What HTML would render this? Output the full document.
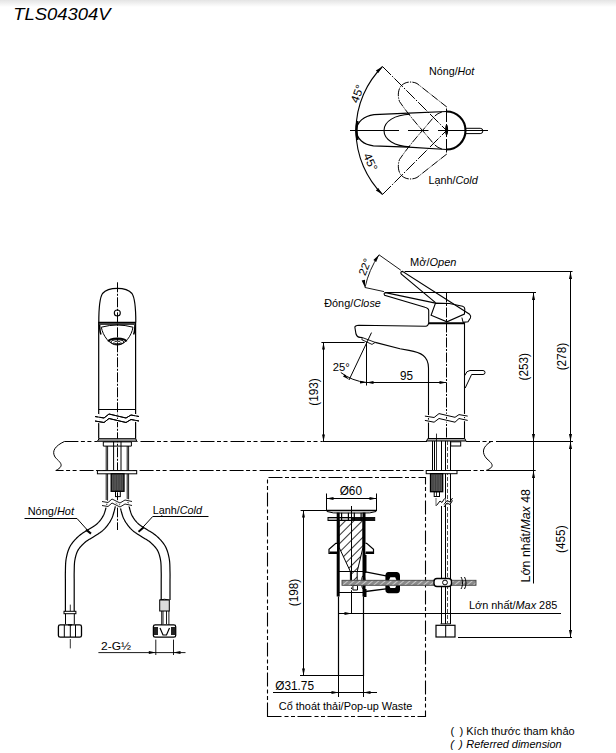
<!DOCTYPE html>
<html><head><meta charset="utf-8">
<style>
html,body{margin:0;padding:0;background:#fff;}
body{width:616px;height:753px;overflow:hidden;position:relative;}
svg{position:absolute;left:0;top:0;}
text{font-family:"Liberation Sans",sans-serif;fill:#000;stroke:#000;stroke-width:0px;}
</style></head><body>
<svg width="616" height="753" viewBox="0 0 616 753">
<defs>
<linearGradient id="topg" x1="0" y1="0" x2="0" y2="1">
<stop offset="0" stop-color="#e4e4e4"/><stop offset="1" stop-color="#ffffff"/>
</linearGradient>
</defs>
<rect x="0" y="0" width="616" height="7" fill="url(#topg)"/>

<text x="13.2" y="19.8" font-size="16.2" font-style="italic" textLength="97.4" lengthAdjust="spacingAndGlyphs" style="stroke-width:0">TLS04304V</text>
<g fill="none" stroke="#000" stroke-width="1">
<path d="M350 130.5H399M408 130.5H428.5M438 130.5H488" stroke-width="1"/>
<path d="M446.5 108.5V122M446.5 124V137M446.5 139V152.5" stroke-width="1"/>
<path d="M382.51 66.51A90.5 90.5 0 0 0 382.51 194.49" stroke-width="1.1"/>
<path d="M382.51 66.51L446.5 130.5M382.51 194.49L446.5 130.5" stroke-dasharray="12,1.6,1.6,1.6" stroke-width="1"/>
<path d="M382.51 66.51L378.30 72.96L375.88 70.43Z" fill="#000" stroke="none"/>
<path d="M382.51 194.49L375.88 190.57L378.30 188.04Z" fill="#000" stroke="none"/>
<path d="M446.8 107L417 83.5C413 81.5 406 81 401.5 85.5C398 89 397.5 96 399.5 101.5C406 111 414 121 422.5 130.5L433.7 143.8Q437 147.8 443 149.3" stroke-dasharray="8,1.2,1.2,1.2" stroke-width="1"/>
<path d="M446.8 154L417 177.5C413 179.5 406 180 401.5 175.5C398 172 397.5 165 399.5 159.5C406 150 414 140 422.5 130.5L433.7 117.2Q437 113.2 443 111.7" stroke-dasharray="8,1.2,1.2,1.2" stroke-width="1"/>
<path d="M446.5 111.5L408.4 113.1L374 114.6C364 116 356.5 122 356.5 130.5C356.5 139 364 145 373.4 145.8L408.4 147.2L446.5 149.5" stroke-width="1.25"/>
<path d="M446.5 111.5A19 19 0 0 1 446.5 149.5" stroke-width="2.1"/>
<path d="M410 114.3C395 115 384 121 384 130.5C384 140 395 146 410 146.8" stroke-width="1.1"/>
<path d="M465.3 128.3H480.2A2.65 2.65 0 0 1 480.2 133.6H465.3" stroke-width="1"/>
<ellipse cx="446.6" cy="130" rx="1.5" ry="5.2" fill="#000" stroke="none"/>
<path d="M357.5 121Q355.3 130.5 357.5 140" stroke-width="2.4"/>
</g>
<text x="429" y="74.5" font-size="11" textLength="45.3" lengthAdjust="spacingAndGlyphs" class="t">Nóng/<tspan font-style="italic">Hot</tspan></text>
<text x="428.4" y="183.6" font-size="11" textLength="49.4" lengthAdjust="spacingAndGlyphs" class="t">Lạnh/<tspan font-style="italic">Cold</tspan></text>
<text x="357.1" y="97.74" font-size="11.5" text-anchor="middle" textLength="18.5" lengthAdjust="spacingAndGlyphs" transform="rotate(-70 357.1 93.6)">45°</text>
<text x="370.6" y="166.04" font-size="11.5" text-anchor="middle" textLength="18.5" lengthAdjust="spacingAndGlyphs" transform="rotate(65 370.6 161.9)">45°</text>
<g fill="none" stroke="#000" stroke-width="1">
<path d="M446.5 292.5V441" stroke-dasharray="10,1.5,2,1.5" stroke-width="1"/>
<path d="M404.6 271.5H572.5" stroke-width="1"/>
<path d="M385 292.5H536" stroke-width="1"/>
<path d="M379 254.8L400.8 270.2M365 287.5L384 291.6" stroke-width="0.9"/>
<path d="M379 254.8A93.6 93.6 0 0 0 365 287.5" stroke-width="0.9"/>
<path d="M379.00 254.80L376.21 261.97L373.40 260.07Z" fill="#000" stroke="none"/>
<path d="M365.00 287.50L361.68 280.56L365.00 279.81Z" fill="#000" stroke="none"/>
<path d="M435.5 302.7L401.4 274.2Q399.8 272 402.4 271.4L469.6 314.3Q471.4 316 470.4 318L468 321.8L463 322.4" stroke-width="1.1"/>
<path d="M461.9 317.6L463.1 322.4" stroke-width="1"/>
<path d="M435.5 303.1L385.5 292.6Q383.3 293.2 384.6 295.2L425 307.2Q428.7 308.2 428.7 310.5V322.2" stroke-width="1.1"/>
<path d="M435.5 303.1L449.4 303.5L462.6 306.3Q464.8 307 464.8 309L464.4 314.1L446.9 321.8L431.1 315.3Z" stroke-width="1.1"/>
<path d="M428.5 323.2H464.6" stroke-width="2"/>
<path d="M428.7 322.2Q428.5 326 425.5 326.3L358.9 325.3Q354.6 325.8 354.9 327.5L356 334Q357 337.2 360 337.4L362.2 337.5" stroke-width="1.1"/>
<path d="M362.2 337.5L361.9 339.7L372 344.4L375.2 342.4Z" stroke-width="0.9"/>
<path d="M375.2 342.4L400 348.8L409 350.4C421 352.5 428.5 356 428.5 368V438.5" stroke-width="1.1"/>
<path d="M464.5 323V438.5" stroke-width="1.1"/>
<path d="M464.8 375.5Q466.5 370.5 470 370.5H483A2 2 0 0 1 483 374.5H471.6L465.2 388" stroke-width="1"/>
<path d="M424.9 416.1L434.1 417.5L439 413.6L455 417.3L459 414.6L467.7 416.1M424.9 420.4L434.1 422.2L439 418.5L455 422.2L459 418.5L467.7 420.4" stroke="#fff" stroke-width="3"/>
<path d="M424.9 416.1L434.1 417.5L439 413.6L455 417.3L459 414.6L467.7 416.1M424.9 420.4L434.1 422.2L439 418.5L455 422.2L459 418.5L467.7 420.4" stroke-width="1"/>
<path d="M427.8 438.5H464.8L466 441H426.5Z" fill="#aaa" stroke-width="1"/>
<path d="M432.5 441V473.7M441.5 441V473.7M434.5 441V473.7" stroke-width="1"/>
<path d="M436.5 433.6V496" stroke-width="0.8"/>
<path d="M445.5 441V623.8M450.5 441V623.8" stroke-width="1"/>
<path d="M447.5 441V623" stroke-dasharray="4,2" stroke-width="0.7"/>
<path d="M441.5 506V623.8" stroke-width="1"/>
<rect x="450.7" y="441.8" width="10" height="4.2" stroke-width="1"/>
<rect x="426.2" y="470.5" width="30.8" height="3.2" fill="#fff" stroke-width="1"/>
<rect x="430.5" y="473.7" width="12.2" height="18" fill="#555" stroke-width="1.3"/>
<path d="M433 474V491M435.5 474V491M438 474V491M440.5 474V491" stroke="#333" stroke-width="0.6"/>
<rect x="434.2" y="491.7" width="5.3" height="4.8" stroke-width="1"/>
<path d="M436.5 500H445.5M441 503H450.5" stroke="#fff" stroke-width="3"/>
<path d="M436.5 505.5L440 501L442 502.5L444.5 498.5M444 504.5L447 500.5L450 502L452.5 498M444 507L447 503L450 504.5L452.5 500.5" stroke-width="1"/>
<path d="M436 498V506" stroke-width="0.6"/>
<rect x="436" y="625.3" width="19" height="11.7" stroke-width="1.2"/>
<path d="M445.7 625.3V637" stroke-width="1"/>
<path d="M440.5 623.8H450.7" stroke-width="0.9"/>
</g>
<text x="410" y="265.5" font-size="11" textLength="46.5" lengthAdjust="spacingAndGlyphs">Mở/<tspan font-style="italic">Open</tspan></text>
<text x="324.3" y="307.3" font-size="11" textLength="56.5" lengthAdjust="spacingAndGlyphs">Đóng/<tspan font-style="italic">Close</tspan></text>
<text x="364.7" y="270.76" font-size="11" text-anchor="middle" textLength="17" lengthAdjust="spacingAndGlyphs" transform="rotate(-68 364.7 266.8)">22°</text>
<text x="332.7" y="371" font-size="11" textLength="17" lengthAdjust="spacingAndGlyphs">25°</text>
<text x="400" y="380" font-size="12" textLength="13" lengthAdjust="spacingAndGlyphs">95</text>
<g fill="none" stroke="#000" stroke-width="1">
<path d="M64.4 441.5H97.5" stroke-dasharray="14,2.5,4,2.5,4,3"/>
<path d="M136.5 441.5H322.4" stroke-dasharray="14,2.5,4,2.5,4,3" stroke-dashoffset="-4"/>
<path d="M322.4 441.5H427"/>
<path d="M466 441.5H500" stroke-dasharray="14,2.5,4,2.5,4,3"/>
<path d="M500 441.5H573"/>
<path d="M55.6 470.5H426.2" stroke-dasharray="14,2.5,4,2.5,4,3" stroke-dashoffset="6"/>
<path d="M457 470.5H500" stroke-dasharray="14,2.5,4,2.5,4,3"/>
<path d="M500 470.5H535.7"/>
<path d="M64.4 441.5C55 446 51.5 451 55 457C59 462 66 465 56 470.5" stroke-width="1"/>
<path d="M491 441.5C482 447 481.5 453 487 459C493 464 495 467 486 470.5" stroke-width="1"/>
<path d="M321.4 342.5H364.6M323.5 342.5V441.5" stroke-width="1"/>
<path d="M323.50 342.50L324.95 349.50L322.05 349.50Z" fill="#000" stroke="none"/>
<path d="M323.50 441.50L322.05 434.50L324.95 434.50Z" fill="#000" stroke="none"/>
<path d="M366.5 342V385.5M371.5 332.6L349 380" stroke-width="1"/>
<path d="M340.8 372.5Q352 381 366.5 382.5" stroke-width="1"/>
<path d="M349.00 379.50L343.02 376.57L344.83 374.31Z" fill="#000" stroke="none"/>
<path d="M366.50 382.50L359.94 383.62L360.08 380.73Z" fill="#000" stroke="none"/>
<path d="M366.5 382.5H446.5" stroke-width="1"/>
<path d="M446.50 382.50L439.50 383.95L439.50 381.05Z" fill="#000" stroke="none"/>
<path d="M366.50 382.50L373.50 381.05L373.50 383.95Z" fill="#000" stroke="none"/>
<path d="M533.5 292.5V583.5" stroke-width="1"/>
<path d="M533.50 292.50L535.00 300.00L532.00 300.00Z" fill="#000" stroke="none"/>
<path d="M533.50 441.50L532.00 434.00L535.00 434.00Z" fill="#000" stroke="none"/>
<path d="M533.50 470.50L535.00 478.00L532.00 478.00Z" fill="#000" stroke="none"/>
<path d="M570.5 271.5V637.5" stroke-width="1"/>
<path d="M570.50 271.50L572.00 279.00L569.00 279.00Z" fill="#000" stroke="none"/>
<path d="M570.50 441.50L569.00 434.00L572.00 434.00Z" fill="#000" stroke="none"/>
<path d="M570.50 441.50L572.00 449.00L569.00 449.00Z" fill="#000" stroke="none"/>
<path d="M570.50 637.50L569.00 630.00L572.00 630.00Z" fill="#000" stroke="none"/>
<path d="M458 637.5H572" stroke-width="1"/>
<path d="M338 613.5H561" stroke-width="1"/>
<path d="M351.50 613.50L344.50 614.95L344.50 612.05Z" fill="#000" stroke="none"/>
</g>
<text x="314" y="396.32" font-size="12" text-anchor="middle" textLength="27.5" lengthAdjust="spacingAndGlyphs" transform="rotate(-90 314 392)">(193)</text>
<text x="523.2" y="371.02" font-size="12" text-anchor="middle" textLength="27.5" lengthAdjust="spacingAndGlyphs" transform="rotate(-90 523.2 366.7)">(253)</text>
<text x="561.2" y="360.92" font-size="12" text-anchor="middle" textLength="27.5" lengthAdjust="spacingAndGlyphs" transform="rotate(-90 561.2 356.6)">(278)</text>
<text x="560.5" y="543.52" font-size="12" text-anchor="middle" textLength="27.5" lengthAdjust="spacingAndGlyphs" transform="rotate(-90 560.5 539.2)">(455)</text>
<text x="525.2" y="540.16" font-size="12.4" text-anchor="middle" textLength="93.4" lengthAdjust="spacingAndGlyphs" transform="rotate(-90 525.2 535.7)">Lớn nhất/<tspan font-style="italic">Max</tspan> 48</text>
<text x="469" y="609.3" font-size="11" textLength="88.3" lengthAdjust="spacingAndGlyphs">Lớn nhất/<tspan font-style="italic">Max</tspan> 285</text>
<g fill="none" stroke="#000" stroke-width="1">
<path d="M117.5 282.3V530" stroke-dasharray="10,1.5,2,1.5" stroke-width="1"/>
<path d="M98.8 322.3C98.8 307 99.5 298 102.5 293.5C106 289.5 111 288.4 117.3 288.4C123.5 288.4 128.5 289.5 132 293.5C135 298 135.8 307 135.8 322.3" stroke-width="1.2"/>
<path d="M98.5 322.5H135.8M98.5 324.2H135.8" stroke-width="1.3"/>
<circle cx="117.3" cy="313" r="3" stroke-width="1.1"/>
<path d="M98.7 322V438.7M135.6 322V438.7" stroke-width="1.2"/>
<path d="M101.3 327.2Q117.3 322.8 133 327.2C131.5 336 125 345 117.3 345C109.5 345 103 336 101.3 327.2Z" stroke-width="1"/>
<path d="M99.6 325Q99.8 332 101 334.5M135 325Q134.8 332 133.6 334.5" stroke-width="1.6"/>
<path d="M108.3 341.5C110 337.5 124.6 337.5 126.5 341.5" stroke-width="2.2"/>
<ellipse cx="117.4" cy="342" rx="6.5" ry="2.3" stroke-width="1"/>
<ellipse cx="117.4" cy="342.6" rx="3.5" ry="1.3" stroke-width="0.8"/>
<path d="M98.7 409.5H135.6" stroke-width="1"/>
<path d="M95 416.5L104 418L109 414L126 418L131 415L139 416.5M95 421L104 422.5L109 418.5L126 422.5L131 419.5L139 421" stroke="#fff" stroke-width="3"/>
<path d="M95 416.5L104 418L109 414L126 418L131 415L139 416.5M95 421L104 422.5L109 418.5L126 422.5L131 419.5L139 421" stroke-width="1"/>
<path d="M98.7 414V421M135.6 414V421" stroke="#fff" stroke-width="2"/>
<path d="M95 416.5L104 418L109 414L126 418L131 415L139 416.5M95 421L104 422.5L109 418.5L126 422.5L131 419.5L139 421" stroke-width="1"/>
<path d="M99 438.7H135.8L136.7 441.3H97.4Z" fill="#aaa" stroke-width="1"/>
<path d="M103.3 441.9H131.4V446.1H103.3Z" stroke-width="1"/>
<path d="M106.2 446V500M107.6 446V500M127.2 446V500M128.6 446V500" stroke-width="0.9"/>
<path d="M113.6 441.5V473.8M121 441.5V473.8" stroke-width="1"/>
<rect x="97.4" y="470.6" width="39.3" height="3.2" fill="#fff" stroke-width="1"/>
<rect x="111.2" y="473.8" width="12.8" height="17.5" fill="#555" stroke-width="1.3"/>
<path d="M113.8 474V491M116.4 474V491M119 474V491M121.6 474V491" stroke="#333" stroke-width="0.6"/>
<rect x="115.5" y="491.3" width="4.8" height="5.3" stroke-width="1"/>
<path d="M107.67 500.24L107.62 500.49L107.58 500.78L107.55 501.01L107.53 501.21L107.51 501.38L107.48 501.57L107.45 501.79L107.40 502.05L107.33 502.38L107.24 502.78L107.12 503.25L106.95 503.86L106.75 504.63L106.52 505.51L106.29 506.46L106.04 507.45L105.78 508.49L105.50 509.55L105.20 510.60L104.89 511.64L104.57 512.64L104.23 513.57L103.90 514.41L103.55 515.17L103.16 515.91L102.73 516.67L102.28 517.43L101.81 518.17L101.31 518.90L100.79 519.62L100.25 520.32L99.69 521.00L99.12 521.67L98.54 522.31L97.94 522.94L97.36 523.52L96.79 524.04L96.21 524.53L95.57 525.01L94.90 525.49L94.18 525.97L93.43 526.45L92.65 526.93L91.84 527.42L91.01 527.92L90.16 528.44L89.30 528.99L88.48 529.52L87.75 530.01L87.04 530.46L86.31 530.90L85.56 531.35L84.78 531.81L83.99 532.29L83.18 532.80L82.36 533.33L81.52 533.91L80.67 534.52L79.82 535.19L78.99 535.90L78.22 536.59L77.46 537.30L76.69 538.04L75.92 538.80L75.15 539.60L74.39 540.43L73.64 541.28L72.91 542.17L72.20 543.09L71.52 544.04L70.87 545.03L70.27 546.04L69.72 547.07L69.22 548.12L68.76 549.17L68.35 550.23L67.98 551.30L67.64 552.36L67.34 553.43L67.06 554.50L66.81 555.56L66.58 556.62L66.37 557.67L66.16 558.75L65.98 559.90L65.83 561.09L65.72 562.28L65.63 563.47L65.57 564.65L65.53 565.81L65.50 566.95L65.47 568.04L65.46 569.10L65.44 570.09L65.43 571.01L65.40 571.88L65.38 572.74L65.36 573.62L65.35 574.47L65.35 575.30L65.35 576.08L65.36 576.83L65.36 577.52L65.37 578.16L65.38 578.74L65.39 579.25L65.40 579.67L65.40 580.03V611.3M116.33 501.76L116.32 501.85L116.31 501.90L116.29 502.04L116.27 502.27L116.23 502.56L116.18 502.92L116.11 503.33L116.02 503.79L115.92 504.29L115.79 504.86L115.63 505.49L115.45 506.14L115.26 506.84L115.06 507.64L114.83 508.57L114.57 509.60L114.30 510.70L113.99 511.85L113.66 513.05L113.29 514.26L112.90 515.48L112.46 516.70L111.98 517.89L111.45 519.03L110.91 520.08L110.35 521.09L109.76 522.07L109.14 523.03L108.50 523.97L107.84 524.88L107.15 525.77L106.45 526.64L105.73 527.48L104.99 528.30L104.23 529.09L103.44 529.88L102.59 530.66L101.69 531.41L100.79 532.10L99.89 532.74L98.99 533.34L98.11 533.90L97.24 534.44L96.40 534.95L95.58 535.44L94.80 535.92L94.06 536.39L93.32 536.88L92.51 537.41L91.68 537.93L90.87 538.43L90.08 538.90L89.32 539.35L88.59 539.79L87.90 540.23L87.23 540.66L86.59 541.10L85.98 541.54L85.40 542.00L84.81 542.50L84.17 543.08L83.50 543.70L82.84 544.33L82.19 544.98L81.55 545.64L80.94 546.31L80.34 546.99L79.78 547.67L79.26 548.35L78.77 549.02L78.33 549.69L77.93 550.36L77.57 551.04L77.23 551.76L76.91 552.50L76.61 553.27L76.33 554.07L76.07 554.90L75.83 555.75L75.60 556.62L75.39 557.51L75.19 558.42L75.00 559.35L74.84 560.25L74.69 561.13L74.58 562.04L74.49 563.01L74.42 564.02L74.36 565.05L74.32 566.10L74.29 567.15L74.27 568.20L74.26 569.23L74.24 570.24L74.22 571.21L74.20 572.12L74.17 572.96L74.16 573.75L74.15 574.53L74.15 575.30L74.15 576.03L74.16 576.74L74.16 577.40L74.17 578.02L74.18 578.60L74.19 579.12L74.20 579.58L74.20 579.97V611.3" stroke-width="1.2"/>
<path d="M119.07 501.76L119.08 501.85L119.09 501.90L119.11 502.04L119.13 502.27L119.17 502.56L119.22 502.92L119.29 503.33L119.38 503.79L119.48 504.29L119.61 504.86L119.77 505.49L119.95 506.14L120.14 506.84L120.34 507.64L120.57 508.57L120.83 509.60L121.10 510.70L121.41 511.85L121.74 513.05L122.11 514.26L122.50 515.48L122.94 516.70L123.42 517.89L123.95 519.03L124.49 520.08L125.05 521.09L125.64 522.07L126.26 523.03L126.90 523.97L127.56 524.88L128.25 525.77L128.95 526.64L129.67 527.48L130.41 528.30L131.17 529.09L131.96 529.88L132.81 530.66L133.71 531.41L134.61 532.10L135.51 532.74L136.41 533.34L137.29 533.90L138.16 534.44L139.00 534.95L139.82 535.44L140.60 535.92L141.34 536.39L142.08 536.88L142.89 537.41L143.72 537.93L144.53 538.43L145.32 538.90L146.08 539.35L146.81 539.79L147.50 540.23L148.17 540.66L148.81 541.10L149.42 541.54L150.00 542.00L150.59 542.50L151.23 543.08L151.90 543.70L152.56 544.33L153.21 544.98L153.85 545.64L154.46 546.31L155.06 546.99L155.62 547.67L156.14 548.35L156.63 549.02L157.07 549.69L157.47 550.36L157.83 551.04L158.17 551.76L158.49 552.50L158.79 553.27L159.07 554.07L159.33 554.90L159.57 555.75L159.80 556.62L160.01 557.51L160.21 558.42L160.40 559.35L160.56 560.25L160.71 561.13L160.82 562.04L160.91 563.01L160.98 564.02L161.04 565.05L161.08 566.10L161.11 567.15L161.13 568.20L161.14 569.23L161.16 570.24L161.18 571.21L161.20 572.12L161.23 572.96L161.24 573.75L161.25 574.53L161.25 575.30L161.25 576.03L161.24 576.74L161.24 577.40L161.23 578.02L161.22 578.60L161.21 579.12L161.20 579.58L161.20 579.97V600M127.73 500.24L127.78 500.49L127.82 500.78L127.85 501.01L127.87 501.21L127.89 501.38L127.92 501.57L127.95 501.79L128.00 502.05L128.07 502.38L128.16 502.78L128.28 503.25L128.45 503.86L128.65 504.63L128.88 505.51L129.11 506.46L129.36 507.45L129.62 508.49L129.90 509.55L130.20 510.60L130.51 511.64L130.83 512.64L131.17 513.57L131.50 514.41L131.85 515.17L132.24 515.91L132.67 516.67L133.12 517.43L133.59 518.17L134.09 518.90L134.61 519.62L135.15 520.32L135.71 521.00L136.28 521.67L136.86 522.31L137.46 522.94L138.04 523.52L138.61 524.04L139.19 524.53L139.83 525.01L140.50 525.49L141.22 525.97L141.97 526.45L142.75 526.93L143.56 527.42L144.39 527.92L145.24 528.44L146.10 528.99L146.92 529.52L147.65 530.01L148.36 530.46L149.09 530.90L149.84 531.35L150.62 531.81L151.41 532.29L152.22 532.80L153.04 533.33L153.88 533.91L154.73 534.52L155.58 535.19L156.41 535.90L157.18 536.59L157.94 537.30L158.71 538.04L159.48 538.80L160.25 539.60L161.01 540.43L161.76 541.28L162.49 542.17L163.20 543.09L163.88 544.04L164.53 545.03L165.13 546.04L165.68 547.07L166.18 548.12L166.64 549.17L167.05 550.23L167.42 551.30L167.76 552.36L168.06 553.43L168.34 554.50L168.59 555.56L168.82 556.62L169.03 557.67L169.24 558.75L169.42 559.90L169.57 561.09L169.68 562.28L169.77 563.47L169.83 564.65L169.87 565.81L169.90 566.95L169.93 568.04L169.94 569.10L169.96 570.09L169.97 571.01L170.00 571.88L170.02 572.74L170.04 573.62L170.05 574.47L170.05 575.30L170.05 576.08L170.04 576.83L170.04 577.52L170.03 578.16L170.02 578.74L170.01 579.25L170.00 579.67L170.00 580.03V600" stroke-width="1.2"/>
<path d="M102 501.5L108 502.5L112 499L120 503L125 500L132 501.5M102 505.5L108 506.5L112 503L120 507L125 504L132 505.5" stroke="#fff" stroke-width="3"/>
<path d="M102 501.5L108 502.5L112 499L120 503L125 500L132 501.5M102 505.5L108 506.5L112 503L120 507L125 504L132 505.5" stroke-width="0.9"/>
<rect x="64" y="611.3" width="11.9" height="2.4" stroke-width="1"/>
<path d="M65.5 613.7V624.1M74.3 613.7V624.1" stroke-width="1"/>
<path d="M68 624.9H72" stroke-width="1.2"/>
<rect x="58.4" y="624.9" width="23.1" height="12.3" rx="1.8" stroke-width="1.3"/>
<path d="M64.3 625V637M70.3 625V637M75.5 625V637" stroke-width="1"/>
<path d="M70.3 604.6V611M70.3 639V648.4" stroke-width="0.8"/>
<path d="M159.7 600Q164.5 598.5 169.3 600" stroke-width="1"/>
<rect x="159.7" y="600" width="9.6" height="11" fill="#ddd" stroke-width="1"/>
<path d="M161.7 611V624.9M168.9 611V624.9M163 611V624M166.5 611V624" stroke-width="0.9"/>
<rect x="153.4" y="624.9" width="22.3" height="12.3" rx="1.8" stroke-width="1.3"/>
<path d="M154 627H158V635H154ZM171 627H175V635H171Z" fill="#222" stroke="none"/>
<path d="M160 628L163 635H166.5L169.5 628" stroke-width="1.2"/>
<path d="M24.5 518.5H77L90 533" stroke-width="1"/>
<path d="M86 529.6L91 533.6" stroke-width="2"/>
<path d="M208.5 516.5H152.7L140.4 530" stroke-width="1"/>
<path d="M138.5 531.8L143.5 527.6" stroke-width="2"/>
<path d="M98.4 652.6H185.5M155.8 639.6V655M173.5 639.6V655" stroke-width="0.9"/>
<path d="M155.80 652.60L148.80 654.10L148.80 651.10Z" fill="#000" stroke="none"/>
<path d="M173.50 652.60L180.50 651.10L180.50 654.10Z" fill="#000" stroke="none"/>
</g>
<text x="27.7" y="514.7" font-size="11" textLength="46.3" lengthAdjust="spacingAndGlyphs">Nóng/<tspan font-style="italic">Hot</tspan></text>
<text x="152.7" y="514.2" font-size="11" textLength="49.3" lengthAdjust="spacingAndGlyphs">Lạnh/<tspan font-style="italic">Cold</tspan></text>
<text x="101" y="650" font-size="11" textLength="30" lengthAdjust="spacingAndGlyphs">2-G½</text>
<defs><pattern id="hatch" patternUnits="userSpaceOnUse" width="6" height="6" patternTransform="rotate(45)"><rect width="6" height="6" fill="#fff"/><path d="M0 0V6" stroke="#000" stroke-width="1.6"/></pattern>
<pattern id="hatch2" patternUnits="userSpaceOnUse" width="4" height="4" patternTransform="rotate(50)"><rect width="4" height="4" fill="#8a8a8a"/><path d="M0 0V4" stroke="#eee" stroke-width="1.3"/></pattern></defs>
<g fill="none" stroke="#000" stroke-width="1">
<path d="M267.5 716.5V477.5H425.5V716.5Z" stroke-dasharray="14,2.5,4,2.5,4,3" stroke-width="1.1"/>
<path d="M326.5 493.5V510.5M376.5 493.5V510.5M326.5 498.5H376.5" stroke-width="1"/>
<path d="M326.50 498.50L333.50 497.05L333.50 499.95Z" fill="#000" stroke="none"/>
<path d="M376.50 498.50L369.50 499.95L369.50 497.05Z" fill="#000" stroke="none"/>
<path d="M300.6 510.5H326.5M303.5 510.5V675.5M300 675.5H338.5" stroke-width="1"/>
<path d="M303.50 510.50L304.95 517.50L302.05 517.50Z" fill="#000" stroke="none"/>
<path d="M303.50 675.50L302.05 668.50L304.95 668.50Z" fill="#000" stroke="none"/>
<path d="M326 510.5H377" stroke-width="1.6"/>
<path d="M327 511.5Q333 513.5 340 513H363Q370 513.5 376 511.5" stroke-width="1"/>
<path d="M339 520.5H363V547.2L357.2 571.6V584H350.4V571.6L339 547.2Z" fill="url(#hatch)" stroke-width="1"/>
<rect x="328" y="517.5" width="46.7" height="3" fill="#aaa" stroke-width="1"/><rect x="352" y="517" width="22.7" height="4" fill="#111" stroke="none"/>
<path d="M341.6 512.8V521M348.4 512.8V521M354.3 512.8V521M361.1 512.8V521" stroke-width="1.2"/>
<path d="M338.2 512.5V596.5M364 512.5V596.5" stroke-width="3"/>
<path d="M338.5 596.5V675.5H363.5V596.5" stroke-width="1.2"/>
<path d="M351.5 506V580" stroke-width="1"/><path d="M351.5 580V612" stroke-dasharray="6,1.5,1.5,1.5" stroke-width="0.9"/>
<path d="M337 543.3H335.8L329 549.2V553.5H337M365.5 543.3H366.7L373.5 549.2V553.5H365.5" stroke-width="1.2" fill="#fff"/>
<path d="M329.5 552.5H337M365.5 552.5H373" stroke-width="2.2"/>
<path d="M338 571.5H364.5M338 592.5H364.5" stroke-width="1.2"/>
<path d="M365.5 571.8L386 575.8M365.5 591.5L386 588.8" stroke-width="1.3"/>
<path d="M365 555V573M365 589V597" stroke-width="3"/>
<path d="M388.5 572H397Q400 572.5 400 576V589.5Q400 593.3 397 593.3H388.5Q385.4 593.3 385.4 589.5V576Q385.4 572 388.5 572Z" fill="#000" stroke="none"/>
<path d="M388 582.6L390.3 577.2H395.2L397.5 582.6L395.2 588H390.3Z" fill="#fff" stroke="none"/>
<ellipse cx="363.3" cy="582.3" rx="1.8" ry="6.8" stroke-width="0.9"/>
<path d="M352.9 585.5H357.5V590H352.9Z" stroke-width="1"/>
<path d="M351.5 590.5V613" stroke-width="1"/>
<rect x="342" y="580.3" width="134" height="5" fill="url(#hatch2)" stroke="#444" stroke-width="0.9"/>
<path d="M461 577C463 580 463 586 461 589M464.5 577C466.5 580 466.5 586 464.5 589" stroke-width="1"/>
<rect x="434" y="578.5" width="17.5" height="8" rx="3" fill="#fff" stroke-width="1.4"/>
<circle cx="445" cy="582.5" r="2.4" stroke-width="1"/>
<path d="M445.5 506V578.5M445.5 586.5V623.8M450.5 506V578.5M450.5 586.5V623.8" stroke-width="1"/>
</g>
<text x="339.7" y="494.6" font-size="12" textLength="22.3" lengthAdjust="spacingAndGlyphs">Ø60</text>
<text x="293.5" y="596.82" font-size="12" text-anchor="middle" textLength="27.5" lengthAdjust="spacingAndGlyphs" transform="rotate(-90 293.5 592.5)">(198)</text>
<text x="275.2" y="689.5" font-size="12" textLength="38.8" lengthAdjust="spacingAndGlyphs">Ø31.75</text>
<path d="M273 692.5H377M338.5 675.5V697M363.5 675.5V697" fill="none" stroke="#000" stroke-width="1"/>
<path d="M338.50 692.50L331.50 693.95L331.50 691.05Z" fill="#000" stroke="none"/>
<path d="M363.50 692.50L370.50 691.05L370.50 693.95Z" fill="#000" stroke="none"/>
<text x="278.8" y="709.5" font-size="11.3" textLength="133.5" lengthAdjust="spacingAndGlyphs">Cổ thoát thải/Pop-up Waste</text>
<text x="450.4" y="734.5" font-size="11.2">(</text><text x="459.6" y="734.5" font-size="11.2">)</text>
<text x="466.3" y="734.5" font-size="11.2" textLength="108.3" lengthAdjust="spacingAndGlyphs">Kích thước tham khảo</text>
<text x="450.2" y="747.9" font-size="11.2" font-style="italic">(</text><text x="459" y="747.9" font-size="11.2" font-style="italic">)</text>
<text x="466.3" y="747.9" font-size="11.2" font-style="italic" textLength="95.4" lengthAdjust="spacingAndGlyphs">Referred dimension</text>
</svg></body></html>
